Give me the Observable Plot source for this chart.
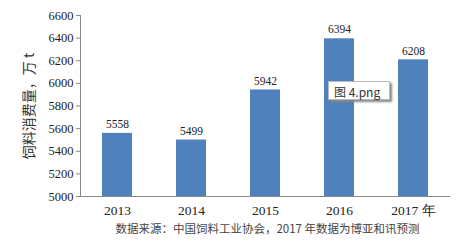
<!DOCTYPE html>
<html><head><meta charset="utf-8">
<script src="https://cdn.jsdelivr.net/npm/d3@7"></script>
<script src="https://cdn.jsdelivr.net/npm/@observablehq/plot@0.6"></script>
<style>
body{margin:0;background:#fff;font-family:"Liberation Serif","DejaVu Serif",serif;}
#wrap{position:relative;width:475px;height:242px;}
#cap{position:absolute;left:0;top:220px;width:475px;text-align:center;font-size:11.5px;color:#444;padding-left:60px;box-sizing:border-box;font-family:"Noto Sans CJK SC","Liberation Serif",serif;}
#tip{position:absolute;left:328px;top:81px;width:62px;height:19px;background:#fff;border:1px solid #bbb;box-shadow:2px 2px 2px #888;font-family:"Noto Sans CJK SC","Noto Sans",sans-serif;font-size:12px;line-height:19px;color:#333;box-sizing:border-box;padding-left:5px;}
</style></head>
<body><div id="wrap"><div id="chart"></div><div id="cap">数据来源：中国饲料工业协会，2017 年数据为博亚和讯预测</div><div id="tip">图 4.png</div></div>
<script>
const years = ["2013", "2014", "2015", "2016", "2017"];
const values = [5558, 5499, 5942, 6394, 6208];
const tickLabels = ["2013", "2014", "2015", "2016", "2017 年"];
const yTicks = [5000, 5200, 5400, 5600, 5800, 6000, 6200, 6400, 6600];
const yTitle = "饲料消费量，万 t";

const serif = "'Liberation Serif', serif";
const data = years.map((y, i) => ({year: y, value: values[i]}));
const labelOf = new Map(years.map((y, i) => [y, tickLabels[i]]));

const chart = Plot.plot({
  width: 475,
  height: 220,
  marginLeft: 80,
  marginRight: 25,
  marginTop: 15,
  marginBottom: 24,
  style: {fontSize: "12px", color: "#222", background: "transparent", fontFamily: serif},
  x: {domain: years, paddingInner: 0.6, paddingOuter: 0.3, label: null},
  y: {domain: [5000, 6600], label: null},
  marks: [
    Plot.barY(data, {x: "year", y1: 5000, y2: "value", fill: "#4F81BD"}),
    Plot.text(data, {x: "year", y: "value", text: d => String(d.value), dy: -9, fontSize: 11.5, fill: "#222", fontFamily: serif}),
    Plot.axisY({ticks: yTicks, tickFormat: d3.format("d"), tickSize: 4, tickPadding: 3, fontSize: 12.5, stroke: "#888", label: null, fontFamily: serif, fill: "#222"}),
    Plot.frame({anchor: "left", stroke: "#888"}),
    Plot.ruleY([5000], {stroke: "#888"}),
    Plot.axisX({tickSize: 0, tickPadding: 9, tickFormat: d => labelOf.get(d), fontSize: 13.5, label: null, fontFamily: serif, fill: "#222"}),
    Plot.axisY({ticks: [], tickSize: 0, label: yTitle, labelAnchor: "center", labelArrow: "none", labelOffset: 56, fontSize: 14, fontFamily: "'Noto Sans CJK SC', serif", fill: "#333"})
  ]
});
document.getElementById("chart").appendChild(chart);
</script>
</body></html>
